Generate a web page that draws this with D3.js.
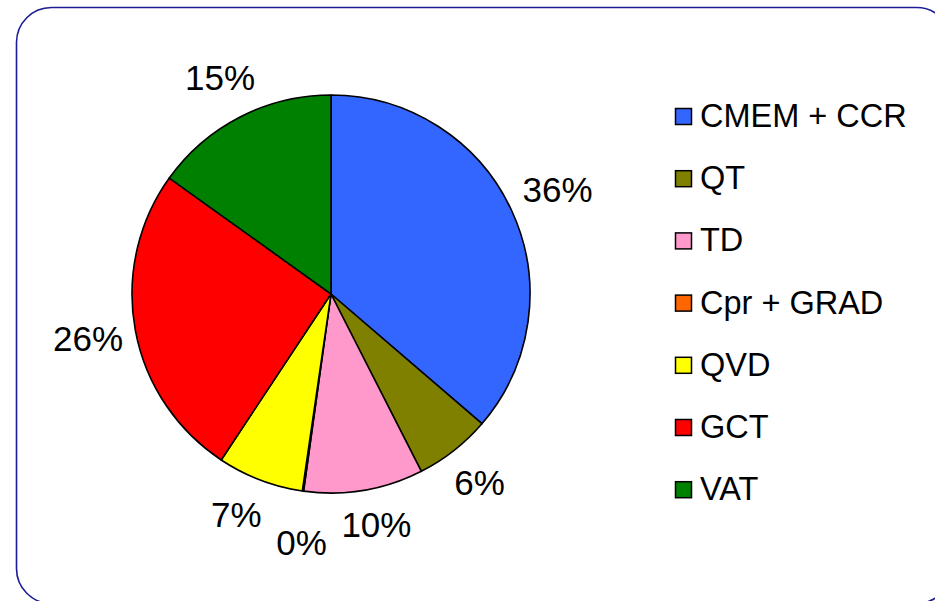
<!DOCTYPE html>
<html>
<head>
<meta charset="utf-8">
<script src="https://cdn.jsdelivr.net/npm/d3@7/dist/d3.min.js"></script>
<style>
  html, body { margin: 0; padding: 0; background: #ffffff; }
  svg { display: block; }
  text { font-family: "Liberation Sans", Arial, sans-serif; fill: #000; }
</style>
</head>
<body>
<svg id="chart" width="935" height="601"></svg>
<script>
// ---- data ----
const categories = ["CMEM + CCR", "QT", "TD", "Cpr + GRAD", "QVD", "GCT", "VAT"];
const values = [36.3, 6.2, 9.7, 0.1, 7.0, 25.6, 15.1];
const colors = ["#3366FF", "#808000", "#FF99CC", "#FF6600", "#FFFF00", "#FF0000", "#008000"];

// ---- layout ----
const cx = 331, cy = 294, R = 199;
const labelFont = 35;
const legendFont = 32.5;

const svg = d3.select("#chart");

// frame
svg.append("rect")
  .attr("x", 16.5).attr("y", 7.5)
  .attr("width", 935).attr("height", 596)
  .attr("rx", 35).attr("ry", 35)
  .attr("fill", "#fff")
  .attr("stroke", "#1c1c94")
  .attr("stroke-width", 1.6);

const data = categories.map((c, i) => ({ name: c, value: values[i], color: colors[i] }));
const total = d3.sum(values);

const pie = d3.pie().value(d => d.value).sort(null);
const arcs = pie(data);
const arc = d3.arc().innerRadius(0).outerRadius(R);

const g = svg.append("g").attr("transform", `translate(${cx},${cy})`);
g.selectAll("path.slice")
  .data(arcs)
  .enter().append("path")
  .attr("class", "slice")
  .attr("d", arc)
  .attr("fill", d => d.data.color)
  .attr("stroke", "#000")
  .attr("stroke-width", 1.6)
  .attr("stroke-linejoin", "round");

// labels outside end
const gap = 10;
const lbl = g.selectAll("text.lbl")
  .data(arcs)
  .enter().append("text")
  .attr("class", "lbl")
  .attr("font-size", labelFont)
  .attr("text-anchor", "middle")
  .text(d => Math.round(d.data.value / total * 100) + "%");

lbl.each(function(d) {
  const w = this.getComputedTextLength();
  const h = labelFont * 1.15;
  const a = (d.startAngle + d.endAngle) / 2;
  const s = Math.sin(a), c = Math.cos(a);
  const ext = Math.abs(s) * w / 2 + Math.abs(c) * h / 2;
  const dist = R + gap + ext;
  d.lx = s * dist; d.ly = -c * dist; d.w = w; d.h = h;
});

// collision: overlapping labels push each other apart (smaller one moves more, and outward)
const pad = 14;
const items = arcs.slice();
for (let iter = 0; iter < 150; iter++) {
  let moved = false;
  for (let i = 0; i < items.length; i++) {
    for (let j = i + 1; j < items.length; j++) {
      const A = items[i], B = items[j];
      const ox = (A.w + B.w) / 2 + pad - Math.abs(A.lx - B.lx);
      const oy = (A.h * 0.7 + B.h * 0.7) / 2 - Math.abs(A.ly - B.ly);
      if (ox > 0 && oy > 0) {
        const small = A.value < B.value ? A : B;
        const big = small === A ? B : A;
        let vx = small.lx - big.lx, vy = small.ly - big.ly;
        const n = Math.hypot(vx, vy) || 1;
        vx /= n; vy /= n;
        const a = (small.startAngle + small.endAngle) / 2;
        let sx = vx + Math.sin(a) * 0.6, sy = vy - Math.cos(a) * 0.6;
        const m = Math.hypot(sx, sy) || 1;
        small.lx += sx / m * 1.0; small.ly += sy / m * 1.0;
        big.lx -= vx * 0.6; big.ly -= vy * 0.6 * 0.3;
        moved = true;
      }
    }
  }
  if (!moved) break;
}

lbl.attr("x", d => d.lx)
   .attr("y", d => d.ly)
   .attr("dy", "0.35em");

// legend
const legX = 675, legY0 = 127, legStep = 62.2, sq = 17;
const leg = svg.append("g");
const li = leg.selectAll("g.item")
  .data(data)
  .enter().append("g")
  .attr("class", "item")
  .attr("transform", (d, i) => `translate(${legX},${legY0 + i * legStep})`);
li.append("rect")
  .attr("x", 0.5).attr("y", -18.5)
  .attr("width", sq - 1).attr("height", sq - 1)
  .attr("fill", d => d.color)
  .attr("stroke", "#000")
  .attr("stroke-width", 1.5);
li.append("text")
  .attr("x", 25).attr("y", 0)
  .attr("font-size", legendFont)
  .text(d => d.name);
</script>
</body>
</html>
